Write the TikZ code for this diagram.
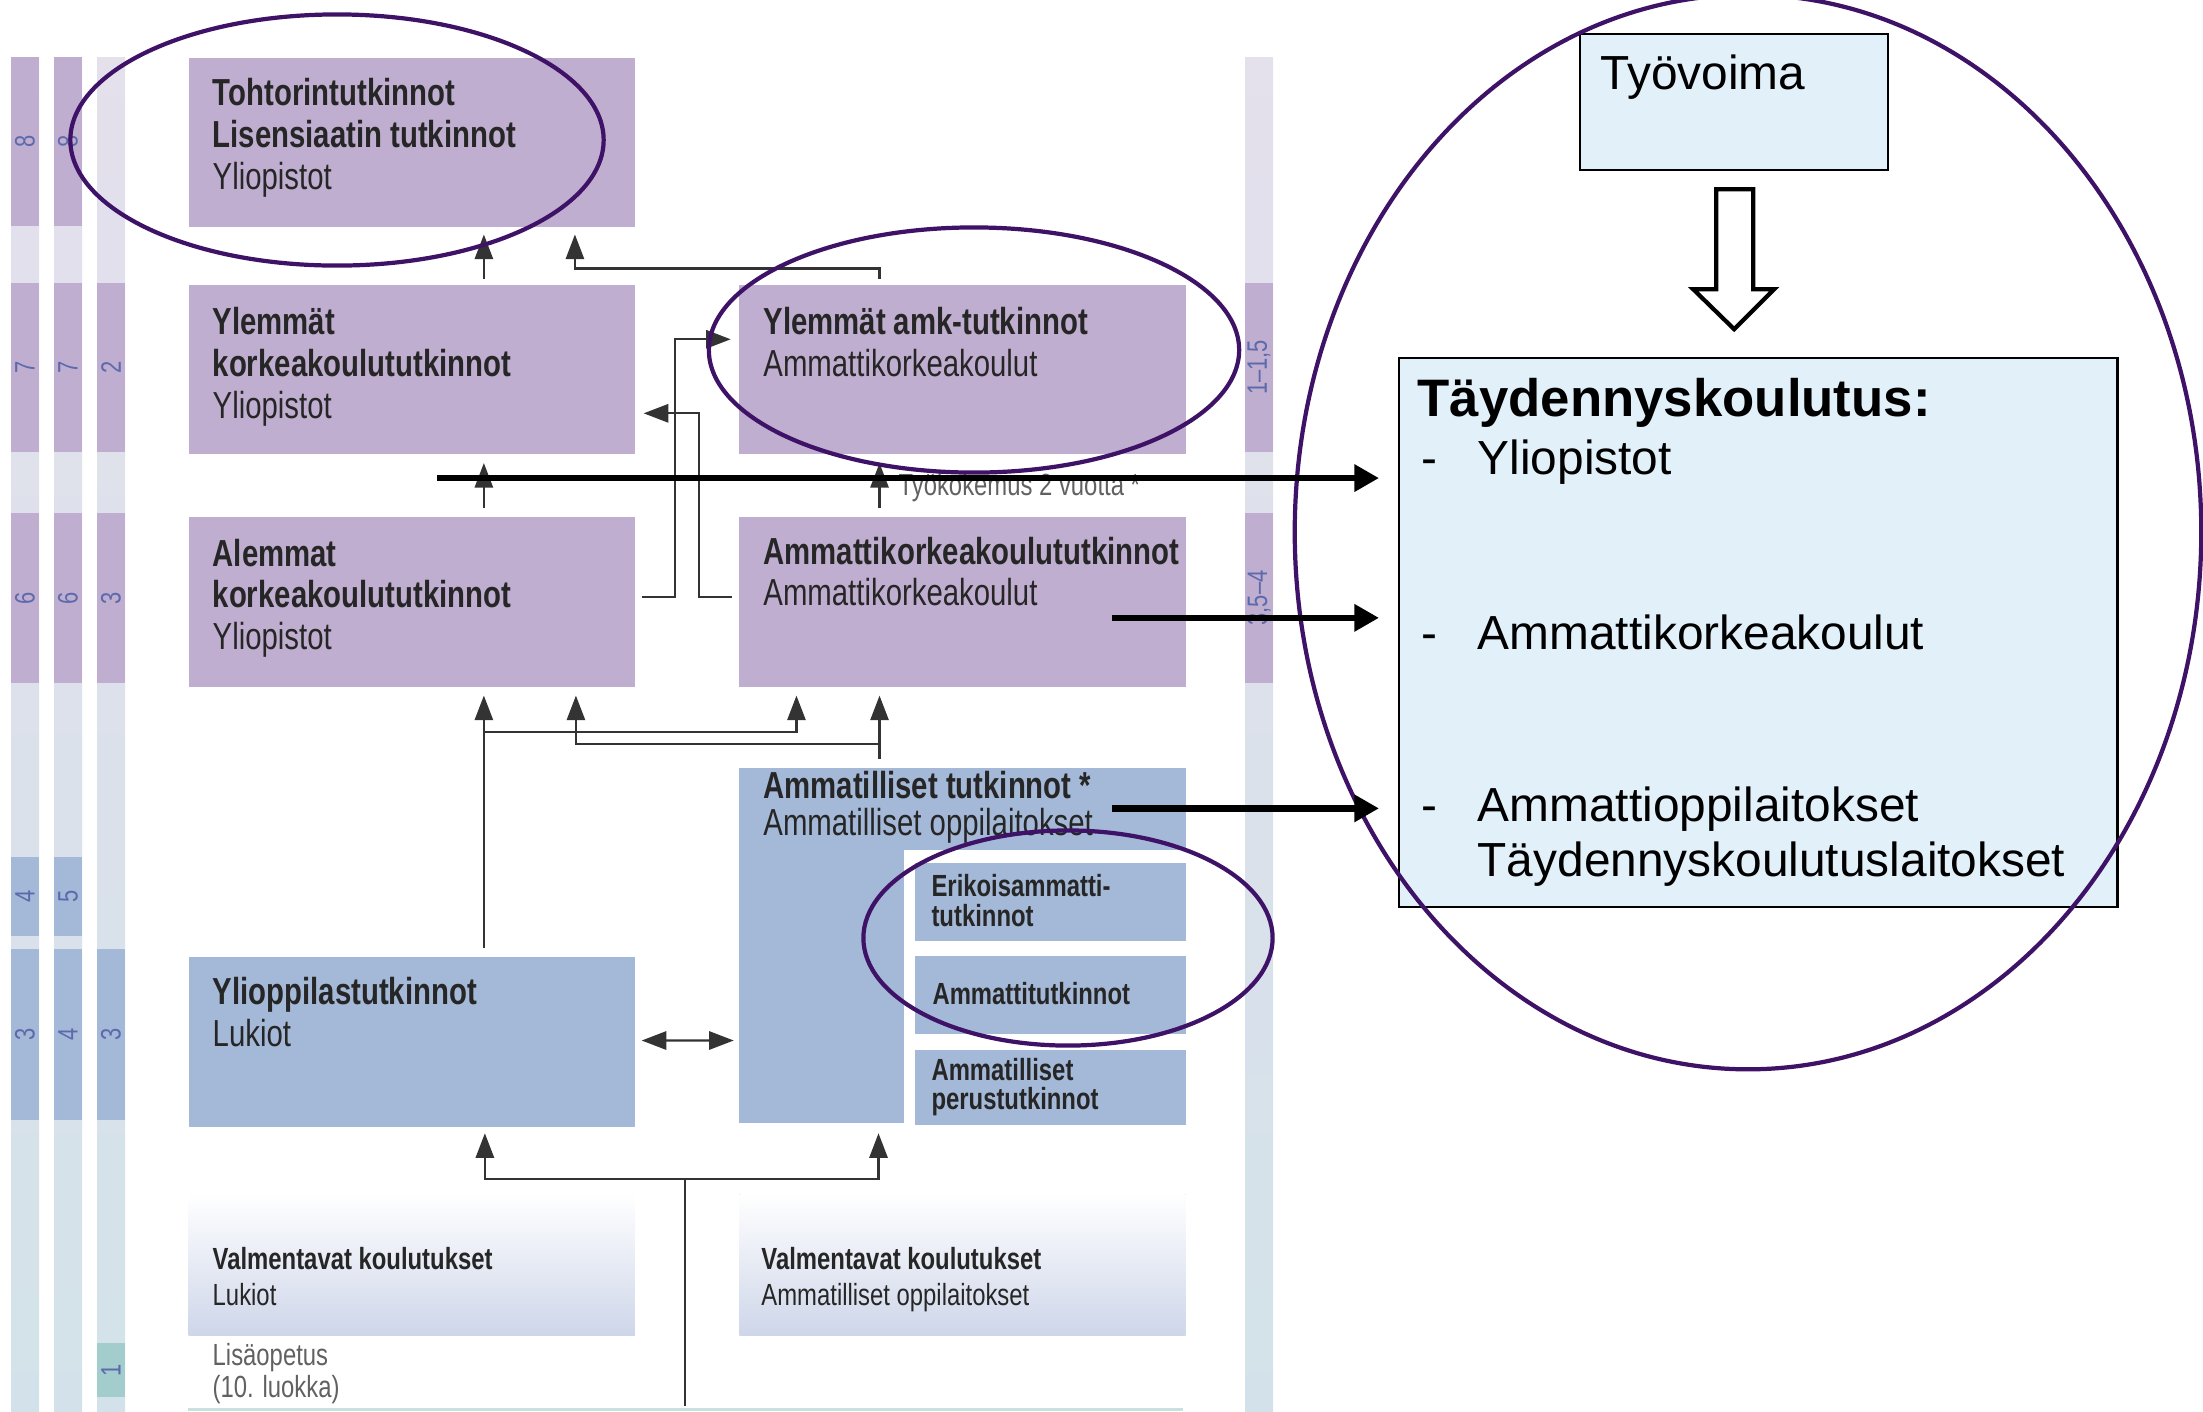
\documentclass[tikz,border=0pt]{standalone}
\usepackage{fontspec}
\setmainfont{Liberation Sans}
\newfontfamily\kapea[FakeStretch=0.78]{Liberation Sans}
\usetikzlibrary{positioning, shapes.geometric, arrows.meta}
\definecolor{liila}{RGB}{192,174,208}
\definecolor{sini}{RGB}{164,184,216}
\definecolor{valmsini}{RGB}{206,214,233}
\definecolor{palkkiyla}{RGB}{228,224,236}
\definecolor{palkkiala}{RGB}{211,226,234}
\definecolor{turkoosi}{RGB}{163,204,204}
\definecolor{numero}{RGB}{92,106,172}
\definecolor{rengas}{RGB}{62,18,102}
\definecolor{vaalea}{RGB}{226,240,250}
\newcommand{\palkki}[5]{%
	\fill[#4] (#1,#2) rectangle ++(28,#3);
	\node [bar_num] (nro-#1-#2) at ({#1+14},{#2+#3/2}) {#5};}

\begin{document}
\begin{tikzpicture}
	% style
	[x=0.01cm, y=-0.01cm,
	deg_box/.style={rectangle, fill=liila, minimum width=4.46cm, minimum height=1.69cm, inner sep=0pt, anchor=north west},
	school_box/.style={deg_box, fill=sini},
	prep_box/.style={deg_box, top color=white, bottom color=valmsini, minimum height=1.41cm},
	sub_box/.style={rectangle, fill=sini, minimum width=2.71cm, inner sep=0pt},
	box_text/.style={anchor=north west, inner sep=0pt, align=left, xshift=0.24cm, yshift=#1, text=black!85, font=\kapea\fontsize{10.7}{11.9}\selectfont},
	box_text/.default=-0.21cm,
	small_text/.style 2 args={anchor=north west, inner sep=0pt, align=left, xshift=#1, yshift=#2, text=black!85, font=\kapea\fontsize{8.7}{10.2}\selectfont},
	note_text/.style={inner sep=0pt, align=left, text=black!62, font=\kapea\fontsize{8.7}{9.1}\selectfont},
	bar_num/.style={rotate=90, inner sep=0pt, text=numero, font=\kapea\fontsize{8}{8}\selectfont},
	conn/.style={draw=black!80, line width=0.6pt, -{Triangle[length=7pt,width=5.2pt]}},
	conn_both/.style={conn, {Triangle[length=7pt,width=5.2pt]}-{Triangle[length=7pt,width=5.2pt]}},
	right_box/.style={rectangle, draw=black, line width=0.6pt, fill=vaalea, inner sep=0pt, anchor=north west},
	right_text/.style={anchor=north west, inner sep=0pt, align=left, xshift=#1, yshift=-0.21cm, font=\fontsize{13.6}{16.5}\selectfont},
	ring/.style={ellipse, draw=rengas, line width=1.2pt, inner sep=0pt},
	big_arrow/.style={draw=black, line width=1.8pt, -{Triangle[length=7pt,width=7.4pt]}},
	hollow_arrow/.style={draw=black, line width=1.2pt, fill=white}]

	\useasboundingbox (0,0) rectangle (2203,1411);

	% side bars
	\shade [top color=palkkiyla, bottom color=palkkiala] (11,57) rectangle ++(28,1354);
	\shade [top color=palkkiyla, bottom color=palkkiala] (54,57) rectangle ++(28,1354);
	\shade [top color=palkkiyla, bottom color=palkkiala] (97,57) rectangle ++(28,1354);
	\shade [top color=palkkiyla, bottom color=palkkiala] (1245,57) rectangle ++(28,1354);
	\palkki{11}{57}{169}{liila}{8}
	\palkki{11}{283}{169}{liila}{7}
	\palkki{11}{513}{170}{liila}{6}
	\palkki{11}{857}{79}{sini}{4}
	\palkki{11}{949}{171}{sini}{3}
	\palkki{54}{57}{169}{liila}{8}
	\palkki{54}{283}{169}{liila}{7}
	\palkki{54}{513}{170}{liila}{6}
	\palkki{54}{857}{79}{sini}{5}
	\palkki{54}{949}{171}{sini}{4}
	\palkki{97}{283}{169}{liila}{2}
	\palkki{97}{513}{170}{liila}{3}
	\palkki{97}{949}{171}{sini}{3}
	\palkki{97}{1343}{54}{turkoosi}{1}
	\palkki{1245}{283}{169}{liila}{1–1,5}
	\palkki{1245}{513}{170}{liila}{3,5–4}
	\fill [turkoosi!60] (188,1408) rectangle (1183,1411);

	% universities
	\node [deg_box] (tohtori) [label={[box_text]north west:{\textbf{Tohtorintutkinnot}\\\textbf{Lisensiaatin tutkinnot}\\Yliopistot}}] at (188,57) {};
	\node [deg_box] (ylemmat) [below=0.57cm of tohtori, label={[box_text=-0.22cm]north west:{\textbf{Ylemmät}\\\textbf{korkeakoulututkinnot}\\Yliopistot}}] {};
	\node [deg_box, minimum height=1.70cm] (alemmat) [below=0.61cm of ylemmat, label={[box_text=-0.22cm]north west:{\textbf{Alemmat}\\\textbf{korkeakoulututkinnot}\\Yliopistot}}] {};

	% universities of applied sciences
	\node [deg_box] (amk_ylempi) [right=1.03cm of ylemmat, label={[box_text=-0.22cm]north west:{\textbf{Ylemmät amk-tutkinnot}\\Ammattikorkeakoulut}}] {};
	\node [deg_box, minimum height=1.70cm] (amk) [right=1.03cm of alemmat, label={[box_text=-0.20cm]north west:{\textbf{Ammattikorkeakoulututkinnot}\\Ammattikorkeakoulut}}] {};

	% upper secondary
	\node [school_box] (ylioppilas) [below=2.69cm of alemmat, label={[box_text=-0.20cm]north west:{\textbf{Ylioppilastutkinnot}\\Lukiot}}] {};
	\node [school_box, minimum height=3.54cm] (ammatill) [below=0.80cm of amk, label={[box_text=-0.03cm]north west:{\textbf{Ammatilliset tutkinnot *}\\[-1.3pt]Ammatilliset oppilaitokset}}] {};
	\fill [white] ([xshift=-2.82cm,yshift=-0.82cm]ammatill.north east) rectangle (ammatill.south east);
	\node [sub_box, minimum height=0.78cm, anchor=north east] (erikois) [label={[small_text={0.17cm}{-0.11cm}, font=\kapea\fontsize{8.7}{8.5}\selectfont]north west:{\textbf{Erikoisammatti-}\\\textbf{tutkinnot}}}] at ([yshift=-0.95cm]ammatill.north east) {};
	\node [sub_box, minimum height=0.78cm] (ammattitutk) [below=0.13cm of erikois, label={[small_text={0.18cm}{-0.26cm}]north west:\textbf{Ammattitutkinnot}}] {};
	\node [sub_box, minimum height=0.75cm] (perus) [below=0.15cm of ammattitutk, label={[small_text={0.17cm}{-0.08cm}, font=\kapea\fontsize{8.7}{8.2}\selectfont]north west:{\textbf{Ammatilliset}\\\textbf{perustutkinnot}}}] {};

	% preparatory education
	\node [prep_box] (valm_lukio) [below=0.66cm of ylioppilas, label={[small_text={0.24cm}{-0.53cm}]north west:{\textbf{Valmentavat koulutukset}\\Lukiot}}] {};
	\node [prep_box] (valm_amm) [below=0.70cm of ammatill, label={[small_text={0.22cm}{-0.53cm}]north west:{\textbf{Valmentavat koulutukset}\\Ammatilliset oppilaitokset}}] {};
	\node [note_text, anchor=north west] (lisaopetus) at (212,1343) {Lisäopetus\\(10. luokka)};

	% connectors
	\draw [conn] ([xshift=0.72cm,yshift=0.06cm]ylemmat.north) -- ([xshift=0.72cm,yshift=-0.07cm]tohtori.south);
	\draw [conn] ([xshift=-0.83cm,yshift=0.06cm]amk_ylempi.north) -- ++(0cm,0.1cm) -| ([xshift=1.63cm,yshift=-0.07cm]tohtori.south);
	\draw [conn] ([xshift=0.06cm,yshift=0.05cm]alemmat.east) -- ++(0.33cm,0cm) |- ([xshift=-0.08cm,yshift=0.305cm]amk_ylempi.west);
	\draw [conn] ([xshift=-0.07cm,yshift=0.05cm]amk.west) -- ++(-0.33cm,0cm) |- ([xshift=0.08cm,yshift=-0.435cm]ylemmat.east);
	\draw [conn] ([xshift=0.72cm,yshift=0.08cm]alemmat.north) -- ([xshift=0.72cm,yshift=-0.08cm]ylemmat.south);
	\draw [conn] ([xshift=-0.83cm,yshift=0.08cm]amk.north) -- node [note_text, pos=0.27, anchor=base west, xshift=0.18cm] (tyokokemus) {Työkokemus 2 vuotta *} ([xshift=-0.83cm,yshift=-0.08cm]amk_ylempi.south);
	\draw [conn] ([xshift=0.72cm,yshift=0.09cm]ylioppilas.north) -- ([xshift=0.72cm,yshift=-0.08cm]alemmat.south);
	\coordinate (haara_lukio) at ([xshift=0.72cm,yshift=-0.44cm]alemmat.south);
	\draw [conn] (haara_lukio) -| ([xshift=-1.66cm,yshift=-0.08cm]amk.south);
	\draw [conn] ([xshift=-0.83cm,yshift=0.09cm]ammatill.north) -- ([xshift=-0.83cm,yshift=-0.08cm]amk.south);
	\coordinate (haara_amm) at ([xshift=-0.83cm,yshift=-0.56cm]amk.south);
	\draw [conn] (haara_amm) -| ([xshift=1.64cm,yshift=-0.08cm]alemmat.south);
	\draw [conn_both] ([xshift=0.06cm,yshift=0.015cm]ylioppilas.east) -- ([xshift=-0.05cm,yshift=-0.95cm]ammatill.west);
	\coordinate (alhaalta) at (685,1406);
	\draw [conn] (alhaalta) |- ([xshift=0.73cm,yshift=-0.52cm]ylioppilas.south) -- ([xshift=0.73cm,yshift=-0.06cm]ylioppilas.south);
	\draw [conn] (alhaalta) |- ([xshift=-0.84cm,yshift=-0.56cm]ammatill.south) -- ([xshift=-0.84cm,yshift=-0.10cm]ammatill.south);

	% continuing education
	\node [right_box, minimum width=3.08cm, minimum height=1.36cm] (tyovoima) [label={[right_text=0.21cm]north west:Työvoima}] at (1579,33) {};
	\node [right_box, minimum width=7.18cm, minimum height=5.49cm] (taydennys) [label={[right_text=0.19cm]north west:{\textbf{\fontsize{15}{16.5}\selectfont Täydennyskoulutus:}\\
		\makebox[0.6cm][l]{\hspace{0.04cm}-}Yliopistot\\[33pt]
		\makebox[0.6cm][l]{\hspace{0.04cm}-}Ammattikorkeakoulut\\[32.4pt]
		\makebox[0.6cm][l]{\hspace{0.04cm}-}Ammattioppilaitokset\\[-0.6pt]
		\makebox[0.6cm]{}Täydennyskoulutuslaitokset}}] at (1398,357) {};
	\draw [hollow_arrow, shift={(tyovoima.south)}] (-18,18) -- (19,18) -- (19,118) -- (40,118) -- (0,158) -- (-41,118) -- (-18,118) -- cycle;

	% highlighted parts
	\node [ring, minimum width=5.33cm, minimum height=2.51cm] (rengas_tohtori) at (337,140) {};
	\node [ring, minimum width=5.30cm, minimum height=2.45cm] (rengas_amk) at (974,350) {};
	\node [ring, minimum width=4.09cm, minimum height=2.15cm] (rengas_erikois) at (1068,938) {};
	\node [ring, minimum width=9.06cm, minimum height=10.74cm] (rengas_taydennys) at (1748,532) {};

	% thick arrows
	\coordinate (tayd_in) at ([xshift=-0.19cm]taydennys.west);
	\coordinate (lahto_yo) at ([xshift=0.25cm,yshift=-0.23cm]ylemmat.south);
	\coordinate (lahto_amk) at ([xshift=-0.74cm,yshift=-0.16cm]amk.east);
	\coordinate (lahto_amm) at ([xshift=-0.74cm,yshift=1.37cm]ammatill.east);
	\draw [big_arrow] (lahto_yo) -- (lahto_yo -| tayd_in);
	\draw [big_arrow] (lahto_amk) -- (lahto_amk -| tayd_in);
	\draw [big_arrow] (lahto_amm) -- (lahto_amm -| tayd_in);
\end{tikzpicture}
\end{document}
